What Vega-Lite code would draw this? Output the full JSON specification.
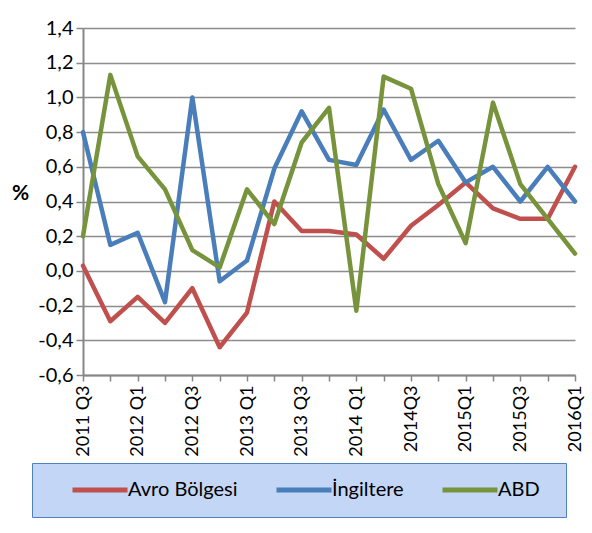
{
  "$schema": "https://vega.github.io/schema/vega-lite/v6.json",
  "width": 492,
  "height": 347,
  "autosize": {"type": "none"},
  "padding": {"left": 83, "top": 28, "right": 17, "bottom": 158},
  "background": "white",
  "config": {
    "font": "Lato",
    "view": {"stroke": null}
  },
  "datasets": {
    "rows": [
      {"q": "2011 Q3", "s": "Avro Bölgesi", "v": 0.03},
      {"q": "2011 Q4", "s": "Avro Bölgesi", "v": -0.29},
      {"q": "2012 Q1", "s": "Avro Bölgesi", "v": -0.15},
      {"q": "2012 Q2", "s": "Avro Bölgesi", "v": -0.30},
      {"q": "2012 Q3", "s": "Avro Bölgesi", "v": -0.10},
      {"q": "2012 Q4", "s": "Avro Bölgesi", "v": -0.44},
      {"q": "2013 Q1", "s": "Avro Bölgesi", "v": -0.24},
      {"q": "2013 Q2", "s": "Avro Bölgesi", "v": 0.40},
      {"q": "2013 Q3", "s": "Avro Bölgesi", "v": 0.23},
      {"q": "2013 Q4", "s": "Avro Bölgesi", "v": 0.23},
      {"q": "2014 Q1", "s": "Avro Bölgesi", "v": 0.21},
      {"q": "2014 Q2", "s": "Avro Bölgesi", "v": 0.07},
      {"q": "2014Q3", "s": "Avro Bölgesi", "v": 0.26},
      {"q": "2014Q4", "s": "Avro Bölgesi", "v": 0.38},
      {"q": "2015Q1", "s": "Avro Bölgesi", "v": 0.51},
      {"q": "2015Q2", "s": "Avro Bölgesi", "v": 0.36},
      {"q": "2015Q3", "s": "Avro Bölgesi", "v": 0.30},
      {"q": "2015Q4", "s": "Avro Bölgesi", "v": 0.30},
      {"q": "2016Q1", "s": "Avro Bölgesi", "v": 0.60},
      {"q": "2011 Q3", "s": "İngiltere", "v": 0.80},
      {"q": "2011 Q4", "s": "İngiltere", "v": 0.15},
      {"q": "2012 Q1", "s": "İngiltere", "v": 0.22},
      {"q": "2012 Q2", "s": "İngiltere", "v": -0.18},
      {"q": "2012 Q3", "s": "İngiltere", "v": 1.00},
      {"q": "2012 Q4", "s": "İngiltere", "v": -0.06},
      {"q": "2013 Q1", "s": "İngiltere", "v": 0.06},
      {"q": "2013 Q2", "s": "İngiltere", "v": 0.59},
      {"q": "2013 Q3", "s": "İngiltere", "v": 0.92},
      {"q": "2013 Q4", "s": "İngiltere", "v": 0.64},
      {"q": "2014 Q1", "s": "İngiltere", "v": 0.61},
      {"q": "2014 Q2", "s": "İngiltere", "v": 0.93},
      {"q": "2014Q3", "s": "İngiltere", "v": 0.64},
      {"q": "2014Q4", "s": "İngiltere", "v": 0.75},
      {"q": "2015Q1", "s": "İngiltere", "v": 0.51},
      {"q": "2015Q2", "s": "İngiltere", "v": 0.60},
      {"q": "2015Q3", "s": "İngiltere", "v": 0.40},
      {"q": "2015Q4", "s": "İngiltere", "v": 0.60},
      {"q": "2016Q1", "s": "İngiltere", "v": 0.40},
      {"q": "2011 Q3", "s": "ABD", "v": 0.20},
      {"q": "2011 Q4", "s": "ABD", "v": 1.13},
      {"q": "2012 Q1", "s": "ABD", "v": 0.66},
      {"q": "2012 Q2", "s": "ABD", "v": 0.47},
      {"q": "2012 Q3", "s": "ABD", "v": 0.12},
      {"q": "2012 Q4", "s": "ABD", "v": 0.02},
      {"q": "2013 Q1", "s": "ABD", "v": 0.47},
      {"q": "2013 Q2", "s": "ABD", "v": 0.27},
      {"q": "2013 Q3", "s": "ABD", "v": 0.74},
      {"q": "2013 Q4", "s": "ABD", "v": 0.94},
      {"q": "2014 Q1", "s": "ABD", "v": -0.23},
      {"q": "2014 Q2", "s": "ABD", "v": 1.12},
      {"q": "2014Q3", "s": "ABD", "v": 1.05},
      {"q": "2014Q4", "s": "ABD", "v": 0.50},
      {"q": "2015Q1", "s": "ABD", "v": 0.16},
      {"q": "2015Q2", "s": "ABD", "v": 0.97},
      {"q": "2015Q3", "s": "ABD", "v": 0.50},
      {"q": "2015Q4", "s": "ABD", "v": 0.30},
      {"q": "2016Q1", "s": "ABD", "v": 0.10}
    ]
  },
  "data": {"name": "rows"},
  "mark": {"type": "line", "strokeWidth": 4.5, "strokeJoin": "round", "strokeCap": "round"},
  "encoding": {
    "x": {
      "field": "q",
      "type": "ordinal",
      "sort": ["2011 Q3","2011 Q4","2012 Q1","2012 Q2","2012 Q3","2012 Q4","2013 Q1","2013 Q2","2013 Q3","2013 Q4","2014 Q1","2014 Q2","2014Q3","2014Q4","2015Q1","2015Q2","2015Q3","2015Q4","2016Q1"],
      "scale": {"type": "point", "padding": 0},
      "axis": {
        "title": null,
        "labelAngle": -90,
        "labelExpr": "indexof(['2011 Q3','2012 Q1','2012 Q3','2013 Q1','2013 Q3','2014 Q1','2014Q3','2015Q1','2015Q3','2016Q1'], datum.label) >= 0 ? datum.label : ''",
        "labelFont": "Lato",
        "labelFontSize": 18,
        "labelColor": "#000000",
        "labelPadding": 4,
        "labelOverlap": false,
        "tickSize": 6,
        "tickColor": "#868686",
        "tickWidth": 1.5,
        "domainColor": "#868686",
        "domainWidth": 2,
        "grid": false
      }
    },
    "y": {
      "field": "v",
      "type": "quantitative",
      "scale": {"domain": [-0.6, 1.4], "nice": false, "zero": false},
      "axis": {
        "values": [-0.6, -0.4, -0.2, 0, 0.2, 0.4, 0.6, 0.8, 1.0, 1.2, 1.4],
        "labelExpr": "replace(replace(format(datum.value, '.1f'), '.', ','), '\u2212', '-')",
        "labelFont": "Lato",
        "labelFontSize": 20,
        "labelColor": "#000000",
        "labelPadding": 3,
        "tickSize": 7,
        "tickColor": "#868686",
        "tickWidth": 1.5,
        "domainColor": "#868686",
        "domainWidth": 2,
        "grid": true,
        "gridColor": "#8c8c8c",
        "gridWidth": 1.5,
        "title": "%",
        "titleAngle": 0,
        "titleX": -63,
        "titleY": 165,
        "titleAlign": "center",
        "titleBaseline": "middle",
        "titleFont": "Lato",
        "titleFontSize": 21,
        "titleFontWeight": "bold",
        "titleColor": "#000000"
      }
    },
    "color": {
      "field": "s",
      "type": "nominal",
      "scale": {"domain": ["Avro Bölgesi", "İngiltere", "ABD"], "range": ["#c0504d", "#4a7ebb", "#77933c"]},
      "legend": {
        "orient": "none",
        "legendX": -51,
        "legendY": 435,
        "direction": "horizontal",
        "columns": 3,
        "title": "\u200b",
        "titleOrient": "right",
        "titlePadding": 10,
        "titleFontSize": 10,
        "symbolType": "stroke",
        "symbolSize": 3025,
        "symbolStrokeWidth": 5,
        "symbolOffset": 22,
        "labelOffset": -2,
        "clipHeight": 22,
        "columnPadding": 14,
        "labelFont": "Lato",
        "labelFontSize": 20,
        "labelColor": "#000000",
        "padding": 16,
        "strokeColor": "#4f81bd",
        "fillColor": "#c3d6f5"
      }
    }
  }
}
